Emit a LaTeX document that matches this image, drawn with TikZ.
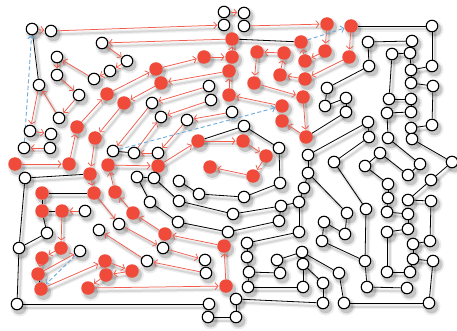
\documentclass[tikz,border=0pt]{standalone}
\usetikzlibrary{arrows.meta}
\definecolor{rnode}{RGB}{240,74,58}
\definecolor{rline}{RGB}{241,92,76}
\definecolor{bdash}{RGB}{110,170,220}
\pgfdeclarelayer{paper}
\pgfdeclarelayer{shadow}
\pgfdeclarelayer{edges}
\pgfsetlayers{paper,shadow,edges,main}
\tikzset{
 wn/.style={circle,draw=black,fill=white,line width=1.1pt,minimum size=11.5pt,inner sep=0pt},
 rn/.style={circle,fill=rnode,minimum size=13.5pt,inner sep=0pt},
 blk/.style={draw=black,line width=0.8pt},
 rar/.style={draw=rline,line width=0.75pt,-{Straight Barb[length=3pt,width=7pt]},shorten >=0.5pt},
 bar/.style={draw=bdash,line width=0.9pt,dash pattern=on 4pt off 2.5pt,-{Straight Barb[length=3pt,width=7pt]}},
 shdA/.style={fill=black,fill opacity=0.07},
 shdB/.style={fill=black,fill opacity=0.16},
 eshA/.style={draw=black,draw opacity=0.06,line width=4.5pt},
 eshB/.style={draw=black,draw opacity=0.10,line width=2pt},
}
\def\blackedges{w1/w10, w16/r29, w16/w19, r30/r31, r30/r32, r32/r33, r32/w18, w18/w19, w19/w20, w20/w28, r48/r49, w45/w46, w45/w47, w46/w54, w47/w56, w54/w55, w55/w59, w56/w57, w57/w58, w58/w59, w59/w60, w60/w61, w61/w62, w62/w63, w60/w64, w64/w65, w65/w66, w66/w67, w67/w68, w68/w73, w67/w70, w69/w70, w69/w71, w71/w72, w72/w73, w71/w76, w72/w74, w74/w75, w76/w77, w30/w75, w30/w31, w31/w29, w77/w86, w86/w87, w87/w88, w88/w89, w89/w90, w90/w91, w91/w92, w92/w99, w99/w100, w100/w101, w101/w102, w102/w103, w103/w104, w104/w105, w105/w106, w106/w107, w107/w108, w108/w109, w88/w93, w93/w94, w94/w95, w95/w96, w96/w97, w97/w98, w98/w111, w111/w110, w110/w112, w112/w113, w113/w114, w114/w119, w119/w120, w120/w121, w121/r20, w119/w118, w118/w122, w122/w123, w123/w124, w124/w125, w125/w126, w126/w127, w127/w128, w128/r24, w117/w118, w117/w116, w116/w115, w115/w109, w63/w129, w129/w130, w130/w131, w131/w82, w82/w83, w83/w84, w84/w85, w78/w83, w78/w79, w79/w80, w80/w81, w81/w62, r7/r17, r38/w53, w53/w52, w52/w51, w51/w50, w50/w49, w49/w48, w42/w43}
\def\redarrows{r27/r28, r28/r25, r25/r3, r3/r1, r1/r5, r5/r6, r6/r7, r7/w3, w3/w4, w4/w5, w5/w6, w6/w7, w7/w8, w8/w9, w9/w11, w11/w10, w10/w12, w12/w13, w15/w14, w1/w2, w2/w34, w32/w33, w35/r19, r19/r21, r21/r18, r18/r17, r20/r22, r22/r13, r13/r12, r12/r11, r11/r10, r10/r14, r14/r15, r15/r24, r24/r23, r16/r9, r9/r8, r8/r2, r2/r4, r4/r26, r26/r29, r29/r31, r31/w23, w23/w25, w25/w26, w27/w24, w24/w22, w37/w36, w36/w42, w38/w39, w41/w40, w40/w44, w44/w43, w43/w39, r34/r35, r35/r38, r36/r34, r37/r36, r43/r37, r44/r43, r45/r44, r53/r45, r51/r53, r52/r51, r50/r52, r49/r50, r48/w21, r47/r48, r46/r47, r33/r46, w17/r33, r38/r39, r39/r40, r40/r41, r41/r42}
\def\bluedash{w14/w1, r17/r20, w42/r16, w21/r49}
\begin{document}
\begin{tikzpicture}[x=1pt,y=-1pt]
\begin{pgfonlayer}{paper}
\fill[white] (0,0) rectangle (457,331);
\end{pgfonlayer}
\useasboundingbox (0,0) rectangle (457,331);
% red nodes
\node[rn] (r1) at (156,69) {};
\node[rn] (r2) at (161,83) {};
\node[rn] (r3) at (107,94) {};
\node[rn] (r4) at (124,103) {};
\node[rn] (r5) at (204,57) {};
\node[rn] (r6) at (232,57) {};
\node[rn] (r7) at (232,39) {};
\node[rn] (r8) at (229,71) {};
\node[rn] (r9) at (229,95) {};
\node[rn] (r10) at (257,52) {};
\node[rn] (r11) at (284,53) {};
\node[rn] (r12) at (280,75) {};
\node[rn] (r13) at (305,79) {};
\node[rn] (r14) at (254,83) {};
\node[rn] (r15) at (303,97) {};
\node[rn] (r16) at (282,106) {};
\node[rn] (r17) at (301,42) {};
\node[rn] (r18) at (305,61) {};
\node[rn] (r19) at (327,24) {};
\node[rn] (r20) at (351,26) {};
\node[rn] (r21) at (325,51) {};
\node[rn] (r22) at (349,57) {};
\node[rn] (r23) at (282,121) {};
\node[rn] (r24) at (306,137) {};
\node[rn] (r25) at (77,127) {};
\node[rn] (r26) at (95,138) {};
\node[rn] (r27) at (15,164) {};
\node[rn] (r28) at (69,164) {};
\node[rn] (r29) at (90,174) {};
\node[rn] (r30) at (42,193) {};
\node[rn] (r31) at (94,193) {};
\node[rn] (r32) at (42,211) {};
\node[rn] (r33) at (62,211) {};
\node[rn] (r34) at (108,165) {};
\node[rn] (r35) at (158,166) {};
\node[rn] (r36) at (115,192) {};
\node[rn] (r37) at (133,213) {};
\node[rn] (r38) at (198,141) {};
\node[rn] (r39) at (243,141) {};
\node[rn] (r40) at (266,156) {};
\node[rn] (r41) at (253,176) {};
\node[rn] (r42) at (210,167) {};
\node[rn] (r43) at (165,234) {};
\node[rn] (r44) at (224,246) {};
\node[rn] (r45) at (226,286) {};
\node[rn] (r46) at (61,248) {};
\node[rn] (r47) at (42,258) {};
\node[rn] (r48) at (38,274) {};
\node[rn] (r49) at (41,289) {};
\node[rn] (r50) at (105,261) {};
\node[rn] (r51) at (106,275) {};
\node[rn] (r52) at (132,271) {};
\node[rn] (r53) at (88,288) {};
% white nodes
\node[wn] (w1) at (32,29) {};
\node[wn] (w2) at (51,31) {};
\node[wn] (w3) at (102,43) {};
\node[wn] (w4) at (127,61) {};
\node[wn] (w5) at (110,71) {};
\node[wn] (w6) at (94,79) {};
\node[wn] (w7) at (57,57) {};
\node[wn] (w8) at (57,75) {};
\node[wn] (w9) at (79,95) {};
\node[wn] (w10) at (39,85) {};
\node[wn] (w11) at (59,118) {};
\node[wn] (w12) at (30,131) {};
\node[wn] (w13) at (51,134) {};
\node[wn] (w14) at (24,148) {};
\node[wn] (w15) at (50,148) {};
\node[wn] (w16) at (25,178) {};
\node[wn] (w17) at (85,211) {};
\node[wn] (w18) at (47,233) {};
\node[wn] (w19) at (19,248) {};
\node[wn] (w20) at (17,304) {};
\node[wn] (w21) at (80,251) {};
\node[wn] (w22) at (99,230) {};
\node[wn] (w23) at (119,224) {};
\node[wn] (w24) at (147,261) {};
\node[wn] (w25) at (163,248) {};
\node[wn] (w26) at (205,260) {};
\node[wn] (w27) at (206,273) {};
\node[wn] (w28) at (209,304) {};
\node[wn] (w29) at (208,317) {};
\node[wn] (w30) at (236,299) {};
\node[wn] (w31) at (236,317) {};
\node[wn] (w32) at (224,12) {};
\node[wn] (w33) at (244,13) {};
\node[wn] (w34) at (224,25) {};
\node[wn] (w35) at (244,26) {};
\node[wn] (w36) at (152,103) {};
\node[wn] (w37) at (209,86) {};
\node[wn] (w38) at (211,100) {};
\node[wn] (w39) at (161,117) {};
\node[wn] (w40) at (187,120) {};
\node[wn] (w41) at (232,112) {};
\node[wn] (w42) at (113,151) {};
\node[wn] (w43) at (134,153) {};
\node[wn] (w44) at (158,153) {};
\node[wn] (w45) at (137,177) {};
\node[wn] (w46) at (154,178) {};
\node[wn] (w47) at (150,202) {};
\node[wn] (w48) at (179,181) {};
\node[wn] (w49) at (199,194) {};
\node[wn] (w50) at (244,197) {};
\node[wn] (w51) at (280,183) {};
\node[wn] (w52) at (279,148) {};
\node[wn] (w53) at (244,126) {};
\node[wn] (w54) at (179,201) {};
\node[wn] (w55) at (233,214) {};
\node[wn] (w56) at (178,222) {};
\node[wn] (w57) at (228,232) {};
\node[wn] (w58) at (279,221) {};
\node[wn] (w59) at (281,206) {};
\node[wn] (w60) at (299,202) {};
\node[wn] (w61) at (304,188) {};
\node[wn] (w62) at (308,173) {};
\node[wn] (w63) at (308,155) {};
\node[wn] (w64) at (299,232) {};
\node[wn] (w65) at (247,243) {};
\node[wn] (w66) at (247,257) {};
\node[wn] (w67) at (249,272) {};
\node[wn] (w68) at (248,287) {};
\node[wn] (w69) at (277,260) {};
\node[wn] (w70) at (280,273) {};
\node[wn] (w71) at (302,252) {};
\node[wn] (w72) at (303,264) {};
\node[wn] (w73) at (303,287) {};
\node[wn] (w74) at (323,283) {};
\node[wn] (w75) at (323,303) {};
\node[wn] (w76) at (339,273) {};
\node[wn] (w77) at (344,303) {};
\node[wn] (w78) at (322,241) {};
\node[wn] (w79) at (324,222) {};
\node[wn] (w80) at (345,234) {};
\node[wn] (w81) at (347,213) {};
\node[wn] (w82) at (366,209) {};
\node[wn] (w83) at (365,261) {};
\node[wn] (w84) at (367,287) {};
\node[wn] (w85) at (407,288) {};
\node[wn] (w86) at (429,303) {};
\node[wn] (w87) at (433,261) {};
\node[wn] (w88) at (413,259) {};
\node[wn] (w89) at (410,272) {};
\node[wn] (w90) at (387,272) {};
\node[wn] (w91) at (387,232) {};
\node[wn] (w92) at (408,229) {};
\node[wn] (w93) at (413,244) {};
\node[wn] (w94) at (430,241) {};
\node[wn] (w95) at (431,201) {};
\node[wn] (w96) at (408,200) {};
\node[wn] (w97) at (431,180) {};
\node[wn] (w98) at (452,162) {};
\node[wn] (w99) at (408,214) {};
\node[wn] (w100) at (387,212) {};
\node[wn] (w101) at (388,198) {};
\node[wn] (w102) at (388,184) {};
\node[wn] (w103) at (365,166) {};
\node[wn] (w104) at (380,153) {};
\node[wn] (w105) at (408,175) {};
\node[wn] (w106) at (420,164) {};
\node[wn] (w107) at (388,138) {};
\node[wn] (w108) at (387,113) {};
\node[wn] (w109) at (411,112) {};
\node[wn] (w110) at (411,128) {};
\node[wn] (w111) at (412,139) {};
\node[wn] (w112) at (432,125) {};
\node[wn] (w113) at (433,86) {};
\node[wn] (w114) at (411,83) {};
\node[wn] (w115) at (411,99) {};
\node[wn] (w116) at (389,99) {};
\node[wn] (w117) at (392,54) {};
\node[wn] (w118) at (410,53) {};
\node[wn] (w119) at (411,70) {};
\node[wn] (w120) at (432,66) {};
\node[wn] (w121) at (432,26) {};
\node[wn] (w122) at (412,41) {};
\node[wn] (w123) at (368,42) {};
\node[wn] (w124) at (369,66) {};
\node[wn] (w125) at (327,88) {};
\node[wn] (w126) at (325,106) {};
\node[wn] (w127) at (346,98) {};
\node[wn] (w128) at (346,112) {};
\node[wn] (w129) at (368,122) {};
\node[wn] (w130) at (369,137) {};
\node[wn] (w131) at (334,162) {};
% shadows
\begin{pgfonlayer}{shadow}
\begin{scope}[transform canvas={shift={(2.5,3.5)}}]
\foreach \a/\b in \blackedges {\draw[eshA] (\a.center) -- (\b.center); \draw[eshB] (\a.center) -- (\b.center);}
\foreach \a/\b in \redarrows {\draw[eshA] (\a.center) -- (\b.center); \draw[eshB] (\a.center) -- (\b.center);}
\foreach \n in {1,...,131} {\fill[shdA] (w\n.center) circle (9pt); \fill[shdB] (w\n.center) circle (7pt);}
\foreach \n in {1,...,53} {\fill[shdA] (r\n.center) circle (9.5pt); \fill[shdB] (r\n.center) circle (7.5pt);}
\end{scope}
\end{pgfonlayer}
% connectors
\begin{pgfonlayer}{edges}
\foreach \a/\b in \blackedges {\draw[blk] (\a) -- (\b);}
\foreach \a/\b in \redarrows {\draw[rar] (\a) -- (\b);}
\foreach \a/\b in \bluedash {\draw[bar] (\a) -- (\b);}
\end{pgfonlayer}
\end{tikzpicture}
\end{document}
